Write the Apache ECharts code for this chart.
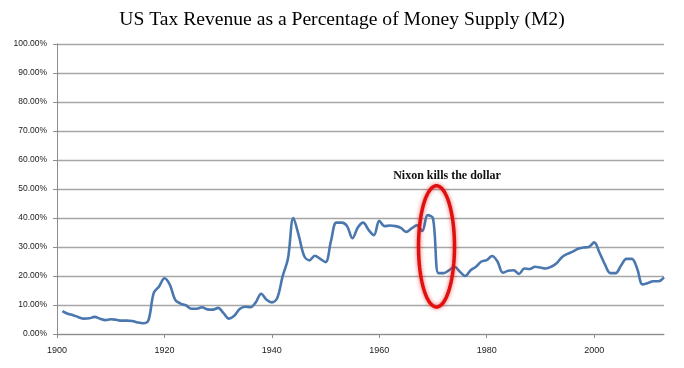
<!DOCTYPE html>
<html>
<head>
<meta charset="utf-8">
<script src="https://cdn.jsdelivr.net/npm/echarts@6/dist/echarts.min.js"></script>
<style>
html,body{margin:0;padding:0;background:#fff;}
#chart{width:684px;height:368px;}
</style>
</head>
<body>
<div id="chart"></div>
<script>
var titleText = 'US Tax Revenue as a Percentage of Money Supply (M2)';
var annotationText = 'Nixon kills the dollar';
var years = [];
for (var yr = 1901; yr <= 2013; yr++) years.push(yr);
var taxPct = [
  7.9, 7.0, 6.5, 5.8, 5.3, 5.4, 5.9, 5.3, 4.8, 5.1,
  4.9, 4.6, 4.6, 4.5, 4.0, 3.7, 4.6, 14.1, 16.4, 19.2,
  17.0, 11.8, 10.5, 9.9, 8.7, 8.7, 9.2, 8.5, 8.4, 9.0,
  7.2, 5.3, 6.3, 8.6, 9.4, 9.2, 10.9, 13.9, 11.8, 10.9,
  12.4, 19.9, 26.0, 40.0, 34.0, 27.0, 25.4, 27.0, 25.9, 24.8,
  32.0, 38.4, 38.4, 37.2, 33.0, 36.7, 38.4, 35.9, 34.1, 39.0,
  37.2, 37.4, 37.2, 36.6, 35.2, 36.4, 37.5, 35.5, 41.0, 39.9,
  21.0, 21.0, 22.0, 23.2, 21.5, 20.0, 22.0, 23.2, 25.0, 25.5,
  26.9, 25.0, 21.1, 21.8, 22.0, 20.7, 22.6, 22.4, 23.2, 22.9,
  22.6, 23.2, 24.4, 26.5, 27.6, 28.4, 29.4, 29.8, 30.0, 31.6,
  28.0, 24.0, 21.0, 21.0, 23.6, 25.9, 25.9, 22.6, 17.1, 17.6,
  18.2, 18.2, 19.5
];
var seriesData = years.map(function (y, i) { return [y, taxPct[i]]; });

var chart = echarts.init(document.getElementById('chart'));
var option = {
  animation: false,
  backgroundColor: '#ffffff',
  title: {
    text: titleText,
    left: 'center',
    top: 5,
    textStyle: { fontFamily: 'Liberation Serif', fontWeight: 'normal', fontSize: 19.6, color: '#000' }
  },
  grid: { left: 57, right: 20, top: 44, bottom: 34, containLabel: false },
  xAxis: {
    type: 'value', min: 1900, max: 2013, interval: 20,
    axisLine: { lineStyle: { color: '#8c8c8c', width: 1 } },
    axisTick: { show: true, length: 4, lineStyle: { color: '#8c8c8c' } },
    axisLabel: {
      color: '#222', fontSize: 9, fontFamily: 'Liberation Sans', margin: 12, showMaxLabel: false,
      formatter: function (v) { return String(v); }
    },
    splitLine: { show: false }
  },
  yAxis: {
    type: 'value', min: 0, max: 100, interval: 10,
    axisLine: { show: true, lineStyle: { color: '#8c8c8c', width: 1 } },
    axisTick: { show: true, length: 4, lineStyle: { color: '#8c8c8c' } },
    axisLabel: {
      color: '#222', fontSize: 8.5, fontFamily: 'Liberation Sans', margin: 10,
      formatter: function (v) { return v.toFixed(2) + '%'; }
    },
    splitLine: { show: true, lineStyle: { color: '#a6a6a6', width: 1.3 } }
  },
  series: [{
    type: 'line',
    data: seriesData,
    smooth: 0.35,
    showSymbol: false,
    lineStyle: { color: '#4a77ad', width: 2.6 },
    itemStyle: { color: '#4a77ad' }
  }]
};
chart.setOption(option);

// annotation positioned in data coordinates
var ctr = chart.convertToPixel({ gridIndex: 0 }, [1970.65, 30.2]);
var topPt = chart.convertToPixel({ gridIndex: 0 }, [1970.65, 51.1]);
var sidePt = chart.convertToPixel({ gridIndex: 0 }, [1974.0, 30.2]);
var rx = sidePt[0] - ctr[0], ry = ctr[1] - topPt[1];
var pts = [];
for (var k = 0; k < 90; k++) {
  var a = k / 90 * Math.PI * 2;
  pts.push([ctr[0] + rx * Math.cos(a), ctr[1] + ry * Math.sin(a)]);
}
var tp = chart.convertToPixel({ gridIndex: 0 }, [1972.6, 54.5]);
chart.setOption({
  graphic: [
    {
      type: 'polygon', shape: { points: pts },
      style: { fill: 'transparent', stroke: '#e01010', lineWidth: 3.5, shadowBlur: 4, shadowColor: 'rgba(220,0,0,0.6)' },
      z: 10
    },
    {
      type: 'text', x: tp[0], y: tp[1],
      style: { text: annotationText, font: 'bold 12px "Liberation Serif"', fill: '#111', align: 'center', verticalAlign: 'middle' },
      z: 10
    }
  ]
});
</script>
</body>
</html>
